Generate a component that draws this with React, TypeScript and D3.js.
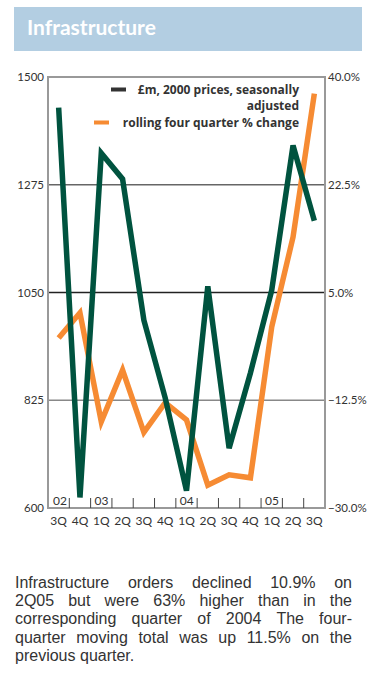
import React, { useEffect, useRef } from 'react';
import * as d3 from 'd3';

const W = 371;
const H = 689;

// quarters 3Q02 .. 3Q05
const quarterLabels = ['3Q', '4Q', '1Q', '2Q', '3Q', '4Q', '1Q', '2Q', '3Q', '4Q', '1Q', '2Q', '3Q'];
const yearLabels = ['02', '03', '04', '05'];
const yearStart = [0, 2, 6, 10];

// £m, 2000 prices, seasonally adjusted (left axis)
const orders = [1436, 622, 1341, 1287, 992, 830, 636, 1063, 725, 882, 1055, 1357, 1200];
// rolling four quarter % change (right axis)
const change = [-2.4, 1.7, -16.0, -7.6, -17.7, -12.9, -15.7, -26.3, -24.6, -25.1, -0.6, 14.0, 37.3];

const leftTicks = [600, 825, 1050, 1275, 1500];
const rightTicks = [-30, -12.5, 5, 22.5, 40];

const noteLines = [
  'Infrastructure orders declined 10.9% on',
  '2Q05 but were 63% higher than in the',
  'corresponding quarter of 2004 The four-',
  'quarter moving total was up 11.5% on the',
  'previous quarter.',
];

const GREEN = '#00533f';
const ORANGE = '#f68b33';

const App = () => {
  const svgRef = useRef<SVGSVGElement>(null);

  useEffect(() => {
    const svg = d3.select(svgRef.current);
    svg.selectAll('*').remove();

    const left = 48, right = 325, top = 77, bottom = 508;

    // title banner
    svg.append('rect')
      .attr('x', 14).attr('y', 7).attr('width', 348).attr('height', 44)
      .attr('fill', '#b3cee2');
    svg.append('text')
      .text('Infrastructure')
      .attr('x', 27).attr('y', 35)
      .attr('font-family', 'Lato, sans-serif')
      .attr('font-weight', 'bold')
      .attr('font-size', '21px')
      .attr('fill', '#fff');

    const x = d3.scaleBand<number>().domain(d3.range(quarterLabels.length)).range([left, right]);
    const cx = (i: number) => (x(i) as number) + x.bandwidth() / 2;
    const yL = d3.scaleLinear().domain([600, 1500]).range([bottom, top]);
    const yR = d3.scaleLinear().domain([-30, 40]).range([bottom, top]);

    // gridlines
    const gridColor = ['#999', '#888', '#222', '#666', '#999'];
    svg.append('g').selectAll('line')
      .data(leftTicks.slice(1, -1))
      .join('line')
      .attr('x1', left).attr('x2', right)
      .attr('y1', d => yL(d)).attr('y2', d => yL(d))
      .attr('stroke', (d, i) => gridColor[i + 1])
      .attr('stroke-width', 1.5);

    // frame
    svg.append('rect')
      .attr('x', left).attr('y', top)
      .attr('width', right - left).attr('height', bottom - top)
      .attr('fill', 'none').attr('stroke', '#999').attr('stroke-width', 2);

    // left axis labels
    const axL = svg.append('g')
      .attr('transform', `translate(${left - 4},0)`)
      .call(d3.axisLeft(yL).tickValues(leftTicks).tickSize(0).tickPadding(0).tickFormat(d3.format('d')));
    axL.select('.domain').remove();
    axL.selectAll('text')
      .attr('font-family', 'Lato, sans-serif').attr('font-size', '11.5px').attr('fill', '#333');

    // right axis labels
    const axR = svg.append('g')
      .attr('transform', `translate(${right + 3},0)`)
      .call(d3.axisRight(yR).tickValues(rightTicks).tickSize(0).tickPadding(0)
        .tickFormat(d => d3.format('.1f')(d as number) + '%'));
    axR.select('.domain').remove();
    axR.selectAll('text')
      .attr('font-family', 'Lato, sans-serif').attr('font-size', '11.5px').attr('fill', '#333');

    // bottom ticks between quarters
    svg.append('g').selectAll('line')
      .data(d3.range(1, quarterLabels.length))
      .join('line')
      .attr('x1', d => x(d) as number).attr('x2', d => x(d) as number)
      .attr('y1', bottom - 10).attr('y2', bottom)
      .attr('stroke', '#444').attr('stroke-width', 1);

    // quarter labels
    svg.append('g').selectAll('text')
      .data(quarterLabels)
      .join('text')
      .text(d => d)
      .attr('x', (d, i) => cx(i))
      .attr('y', bottom + 17)
      .attr('text-anchor', 'middle')
      .attr('font-family', 'Lato, sans-serif').attr('font-size', '12px').attr('fill', '#333');

    // year labels
    svg.append('g').selectAll('text')
      .data(yearLabels)
      .join('text')
      .text(d => d)
      .attr('x', (d, i) => (x(yearStart[i]) as number) + (i === 0 ? 5 : 4))
      .attr('y', bottom - 3)
      .attr('font-family', 'Lato, sans-serif').attr('font-size', '12px').attr('fill', '#333');

    // series
    const lineL = d3.line<number>().x((d, i) => cx(i)).y(d => yL(d));
    const lineR = d3.line<number>().x((d, i) => cx(i)).y(d => yR(d));
    svg.append('path').attr('d', lineR(change))
      .attr('fill', 'none').attr('stroke', ORANGE).attr('stroke-width', 5.5);
    svg.append('path').attr('d', lineL(orders))
      .attr('fill', 'none').attr('stroke', GREEN).attr('stroke-width', 5.5);

    // legend
    const lg = svg.append('g')
      .attr('font-family', '"Open Sans", sans-serif').attr('font-weight', 'bold')
      .attr('font-size', '12px').attr('fill', '#333').attr('text-anchor', 'end');
    lg.append('rect').attr('x', 111).attr('y', 87.5).attr('width', 15).attr('height', 4).attr('fill', '#333');
    lg.append('text').text('£m, 2000 prices, seasonally').attr('x', 299).attr('y', 93.5);
    lg.append('text').text('adjusted').attr('x', 299).attr('y', 110);
    lg.append('rect').attr('x', 94).attr('y', 120.5).attr('width', 15).attr('height', 4).attr('fill', ORANGE);
    lg.append('text').text('rolling four quarter % change').attr('x', 299).attr('y', 126.5);

    // justified note
    const noteX0 = 15, noteX1 = 352;
    const note = svg.append('g')
      .attr('font-family', '"Liberation Sans", Arial, sans-serif')
      .attr('font-size', '16px').attr('fill', '#333');
    noteLines.forEach((line, li) => {
      const y = 588 + li * 18.2;
      const words = line.split(' ');
      const last = li === noteLines.length - 1;
      const nodes = words.map(w => note.append('text').text(w).attr('y', y));
      const widths = nodes.map(n => (n.node() as SVGTextElement).getComputedTextLength());
      const total = d3.sum(widths);
      const gap = last ? 4.5 : (noteX1 - noteX0 - total) / (words.length - 1);
      let cur = noteX0;
      nodes.forEach((n, i) => {
        n.attr('x', cur);
        cur += widths[i] + gap;
      });
    });
  }, []);

  return (
    <svg ref={svgRef} width={W} height={H} viewBox={`0 0 ${W} ${H}`}
      style={{ position: 'absolute', left: 0, top: 0, background: '#fff' }} />
  );
};

export default App;
